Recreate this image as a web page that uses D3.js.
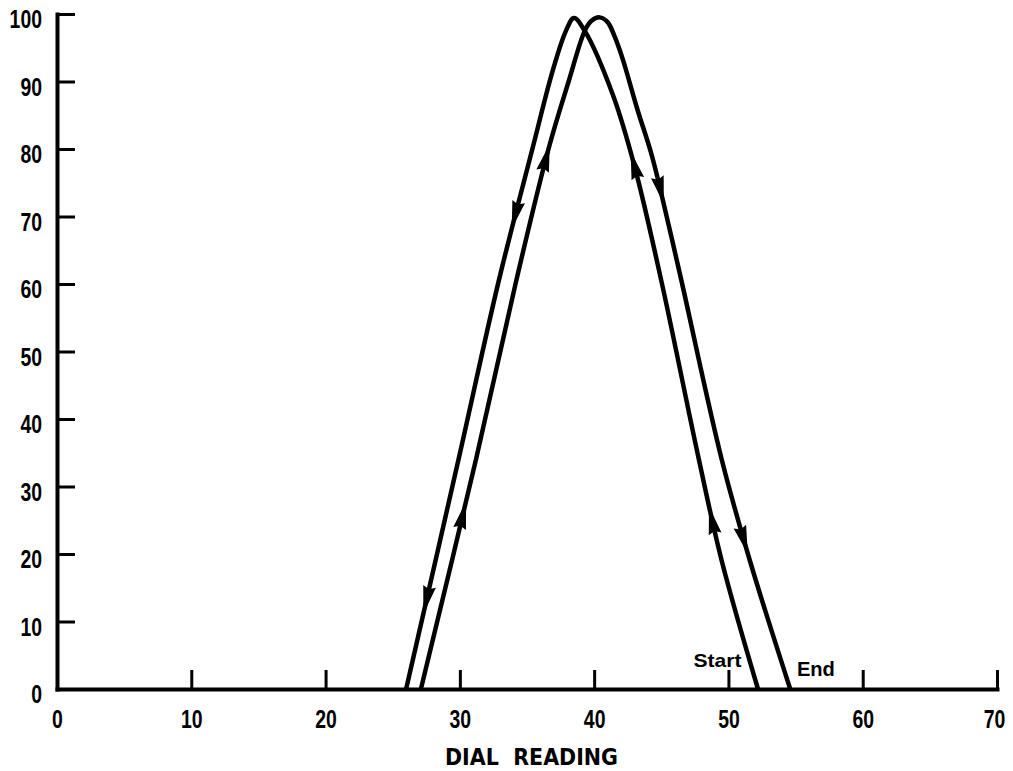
<!DOCTYPE html>
<head>
  <meta charset="utf-8">
  <title>dial reading</title>
  <script src="https://cdnjs.cloudflare.com/ajax/libs/d3/7.8.5/d3.min.js"></script>
  <style>
    body{ margin:0; background:#fff; }
    .ax text{ font-family:"Liberation Sans",Arial,sans-serif; font-weight:bold; font-size:25px; fill:#000; }
  </style>
</head>
<body>
<div id="container"></div>
<script>
  // axis ticks
  var xTicks = [0,10,20,30,40,50,60,70];
  var yTicks = [0,10,20,30,40,50,60,70,80,90,100];

  // first sweep: from Start, up the inner right, over the left peak, down the outer left
  var sweepStart = [
    [52.2,0],[49.5,19],[47.8,34],[45.0,60.5],[43.0,77.5],[41.4,88],[39.3,97.5],
    [38.5,99.4],[37.9,97.5],[36.9,91.5],[35.4,80],[32.9,60.5],[29.9,34],[26.0,0]
  ];
  // second sweep: up the inner left, over the right peak, down the outer right to End
  var sweepEnd = [
    [27.1,0],[31.2,34],[34.2,60.5],[36.6,80],[38.1,90],[39.3,97.5],[39.8,99],[40.4,99.5],
    [41.0,98.8],[41.5,96.8],[42.1,93.5],[43.2,86],[44.3,79],[45.4,70],[46.5,60.5],[49.5,34],[51.6,19],[54.6,0]
  ];
  // arrow heads: which half of the sweep (0 = before peak, 1 = after) and the height
  var arrowsStart = [[0,25],[0,77.6],[1,70.2],[1,13.2]];
  var arrowsEnd   = [[0,25.8],[0,78.7],[1,73.9],[1,22.1]];

  var margin = {top: 14, right: 16, bottom: 82, left: 57},
      width = 1013 - margin.left - margin.right,
      height = 771 - margin.top - margin.bottom;

  var svg = d3.select("#container").append("svg")
      .attr("width", 1013)
      .attr("height", 771);

  var g = svg.append("g")
      .attr("transform","translate(" + margin.left + "," + margin.top + ")");

  var xScale = d3.scaleLinear().domain([0,70]).range([0,width]);
  var yScale = d3.scaleLinear().domain([0,100]).range([height,0]);

  var xAxis = d3.axisBottom(xScale).tickValues(xTicks).tickSize(-19).tickSizeOuter(0).tickPadding(21);
  var yAxis = d3.axisLeft(yScale).tickValues(yTicks).tickSize(-18).tickSizeOuter(0).tickPadding(15);

  g.append("g").attr("class","x-ax ax")
    .attr("transform","translate(0," + height + ")")
    .call(xAxis);
  g.append("g").attr("class","y-ax ax")
    .call(yAxis);

  // no tick marks where the two axes meet
  g.selectAll(".x-ax .tick").filter(function(d){ return d == 0; }).select("line").remove();
  g.selectAll(".y-ax .tick").filter(function(d){ return d == 0; }).select("line").remove();
  g.selectAll(".y-ax .tick text").attr("dy","0.55em");
  // last label pulled in a little so it stays on the page
  g.selectAll(".x-ax .tick").filter(function(d){ return d == 70; }).select("text").attr("x",-3);

  // narrow digits like the original lettering
  g.selectAll(".ax .tick text").each(function(){
    var t = d3.select(this);
    t.attr("textLength", 10.8 * t.text().length).attr("lengthAdjust","spacingAndGlyphs");
  });

  g.selectAll(".domain").attr("stroke","#000").attr("stroke-width",4).attr("stroke-linecap","square");
  g.selectAll(".tick line").attr("stroke","#000").attr("stroke-width",3);

  var line = d3.line()
    .x(function(d){ return xScale(d[0]); })
    .y(function(d){ return yScale(d[1]); })
    .curve(d3.curveCatmullRom.alpha(0.5));

  function drawSweep(pts, arrows){
    var p = g.append("path")
      .datum(pts)
      .attr("d", line)
      .attr("fill","none")
      .attr("stroke","#000")
      .attr("stroke-width",4.5)
      .attr("stroke-linejoin","round");
    var node = p.node();
    var L = node.getTotalLength();
    // find the peak along the path
    var peakS = 0, minY = Infinity;
    for (var s = 0; s <= L; s += 1) {
      var q = node.getPointAtLength(s);
      if (q.y < minY) { minY = q.y; peakS = s; }
    }
    arrows.forEach(function(a){
      var s0 = a[0] == 0 ? 0 : peakS, s1 = a[0] == 0 ? peakS : L;
      var target = yScale(a[1]), best = s0, bd = Infinity;
      for (var s = s0; s <= s1; s += 0.5) {
        var q = node.getPointAtLength(s);
        if (Math.abs(q.y - target) < bd) { bd = Math.abs(q.y - target); best = s; }
      }
      var c = node.getPointAtLength(best),
          p1 = node.getPointAtLength(best - 3),
          p2 = node.getPointAtLength(best + 3);
      var ang = Math.atan2(p2.y - p1.y, p2.x - p1.x) * 180 / Math.PI;
      g.append("path")
        .attr("d","M14,0 L-14,-6.5 L-11,0 L-14,6.5 Z")
        .attr("fill","#000")
        .attr("transform","translate(" + c.x + "," + c.y + ") rotate(" + ang + ")");
    });
  }

  drawSweep(sweepStart, arrowsStart);
  drawSweep(sweepEnd, arrowsEnd);

  // labels at the feet of the sweeps
  g.append("text").text("Start")
    .attr("x", xScale(47.4)).attr("y", yScale(3.3))
    .attr("textLength", 48).attr("lengthAdjust","spacingAndGlyphs")
    .style("font-family","'Liberation Sans',Arial,sans-serif")
    .style("font-weight","bold").style("font-size","19px");
  g.append("text").text("End")
    .attr("x", xScale(55.1)).attr("y", yScale(1.9))
    .attr("textLength", 38).attr("lengthAdjust","spacingAndGlyphs")
    .style("font-family","'Liberation Sans',Arial,sans-serif")
    .style("font-weight","bold").style("font-size","21px");

  svg.append("text").text("DIAL  READING")
    .attr("x", 445).attr("y", 765)
    .attr("textLength", 173)
    .attr("lengthAdjust","spacingAndGlyphs")
    .style("white-space","pre")
    .style("font-family","'DejaVu Sans',sans-serif")
    .style("font-weight","bold").style("font-size","23px");
</script>
</body>
</html>
